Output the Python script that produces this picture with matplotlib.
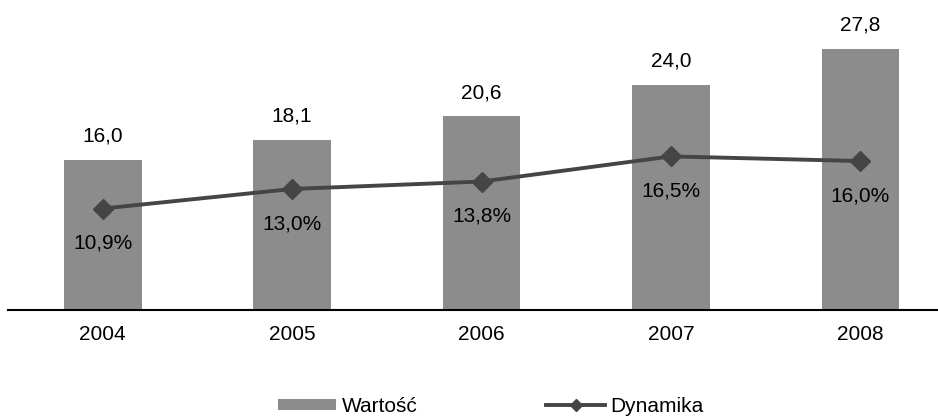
import matplotlib.pyplot as plt
import numpy as np

years = ["2004", "2005", "2006", "2007", "2008"]
wartosc = [16.0, 18.1, 20.6, 24.0, 27.8]
dynamika = [10.9, 13.0, 13.8, 16.5, 16.0]

plt.rcParams["font.family"] = ["Liberation Sans", "DejaVu Sans"]

bar_color = "#8c8c8c"
line_color = "#454545"
fs = 15

fig = plt.figure(figsize=(9.38, 4.19), dpi=100)
ax = fig.add_axes([8 / 938, 109 / 419, 930 / 938, 310 / 419])
x = np.arange(len(years))

bars = ax.bar(x, wartosc, width=0.41, color=bar_color, label="Wartość", zorder=2)
ax.set_xlim(-0.5, 4.41)
ax.set_ylim(0, 33)

ax2 = ax.twinx()
ax2.plot(x, dynamika, color=line_color, lw=2.8, marker="D", ms=10,
         label="Dynamika", zorder=3)
ax2.set_ylim(0, 33.3)

for xi, v in zip(x, wartosc):
    ax.annotate(f"{v:.1f}".replace(".", ","), (xi, v), xytext=(0, 17),
                textcoords="offset points", ha="center", va="center", fontsize=fs)
for xi, v in zip(x, dynamika):
    ax2.annotate(f"{v:.1f}%".replace(".", ","), (xi, v), xytext=(0, -25),
                 textcoords="offset points", ha="center", va="center", fontsize=fs)

for a in (ax, ax2):
    for s in ("top", "right", "left"):
        a.spines[s].set_visible(False)
    a.set_yticks([])
ax2.spines["bottom"].set_visible(False)
ax.spines["bottom"].set_linewidth(1.5)
ax.spines["bottom"].set_color("black")

ax.set_xticks(x)
ax.set_xticklabels(years, fontsize=fs)
ax.tick_params(axis="x", length=0, pad=11)

handles = [bars, ax2.get_lines()[0]]
fig.legend(handles, ["Wartość", "Dynamika"], loc="center", bbox_to_anchor=(0.523, 0.03),
           ncol=2, frameon=False, fontsize=fs, columnspacing=6.2, handlelength=2.8,
           handletextpad=0.25, handleheight=0.5, markerscale=0.6)

fig.savefig("out.png", dpi=100)
